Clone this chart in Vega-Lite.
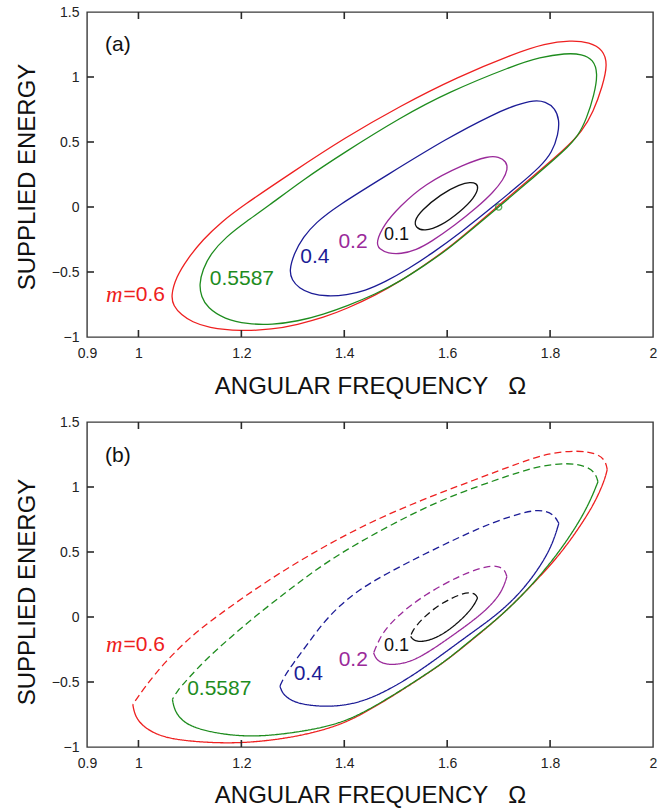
{
"$schema": "https://vega.github.io/schema/vega-lite/v6.json",
"padding": {"left": 14, "top": 4, "right": 8, "bottom": 0},
"spacing": 15,
"config": {
  "view": {"stroke": "#3a3a3a", "strokeWidth": 1.4},
  "font": "Liberation Sans",
  "axis": {"grid": false, "domain": false, "ticks": false, "labelFont": "Liberation Sans", "labelFontSize": 14, "labelColor": "#222", "titleFont": "Liberation Sans", "titleFontSize": 24, "titleFontWeight": "normal", "titleColor": "#111"}
},
"datasets": {
"tx": [{"v":1},{"v":1.2},{"v":1.4},{"v":1.6},{"v":1.8}],
"ty": [{"v":-0.5},{"v":0},{"v":0.5},{"v":1}],
"a": [
{"m":"0.6","i":0,"x":1.063,"y":-0.685},{"m":"0.6","i":1,"x":1.068,"y":-0.76},{"m":"0.6","i":2,"x":1.083,"y":-0.83},{"m":"0.6","i":3,"x":1.105,"y":-0.885},{"m":"0.6","i":4,"x":1.134,"y":-0.928},{"m":"0.6","i":5,"x":1.199,"y":-0.956},{"m":"0.6","i":6,"x":1.26,"y":-0.942},{"m":"0.6","i":7,"x":1.309,"y":-0.905},{"m":"0.6","i":8,"x":1.36,"y":-0.85},{"m":"0.6","i":9,"x":1.406,"y":-0.78},{"m":"0.6","i":10,"x":1.46,"y":-0.68},{"m":"0.6","i":11,"x":1.51,"y":-0.568},{"m":"0.6","i":12,"x":1.555,"y":-0.448},{"m":"0.6","i":13,"x":1.6,"y":-0.325},{"m":"0.6","i":14,"x":1.65,"y":-0.16},{"m":"0.6","i":15,"x":1.698,"y":0.005},{"m":"0.6","i":16,"x":1.765,"y":0.23},{"m":"0.6","i":17,"x":1.83,"y":0.45},{"m":"0.6","i":18,"x":1.862,"y":0.58},{"m":"0.6","i":19,"x":1.884,"y":0.73},{"m":"0.6","i":20,"x":1.902,"y":0.93},{"m":"0.6","i":21,"x":1.912,"y":1.1},{"m":"0.6","i":22,"x":1.903,"y":1.21},{"m":"0.6","i":23,"x":1.877,"y":1.268},{"m":"0.6","i":24,"x":1.84,"y":1.283},{"m":"0.6","i":25,"x":1.79,"y":1.258},{"m":"0.6","i":26,"x":1.73,"y":1.18},{"m":"0.6","i":27,"x":1.62,"y":1.0},{"m":"0.6","i":28,"x":1.51,"y":0.78},{"m":"0.6","i":29,"x":1.4,"y":0.53},{"m":"0.6","i":30,"x":1.3,"y":0.27},{"m":"0.6","i":31,"x":1.199,"y":0},{"m":"0.6","i":32,"x":1.163,"y":-0.11},{"m":"0.6","i":33,"x":1.125,"y":-0.25},{"m":"0.6","i":34,"x":1.095,"y":-0.4},{"m":"0.6","i":35,"x":1.073,"y":-0.54},
{"m":"0.5587","i":0,"x":1.118,"y":-0.595},{"m":"0.5587","i":1,"x":1.122,"y":-0.69},{"m":"0.5587","i":2,"x":1.134,"y":-0.775},{"m":"0.5587","i":3,"x":1.167,"y":-0.862},{"m":"0.5587","i":4,"x":1.212,"y":-0.902},{"m":"0.5587","i":5,"x":1.26,"y":-0.905},{"m":"0.5587","i":6,"x":1.309,"y":-0.88},{"m":"0.5587","i":7,"x":1.36,"y":-0.825},{"m":"0.5587","i":8,"x":1.406,"y":-0.76},{"m":"0.5587","i":9,"x":1.46,"y":-0.672},{"m":"0.5587","i":10,"x":1.51,"y":-0.568},{"m":"0.5587","i":11,"x":1.555,"y":-0.452},{"m":"0.5587","i":12,"x":1.6,"y":-0.33},{"m":"0.5587","i":13,"x":1.65,"y":-0.165},{"m":"0.5587","i":14,"x":1.7,"y":0},{"m":"0.5587","i":15,"x":1.767,"y":0.225},{"m":"0.5587","i":16,"x":1.83,"y":0.44},{"m":"0.5587","i":17,"x":1.855,"y":0.55},{"m":"0.5587","i":18,"x":1.871,"y":0.68},{"m":"0.5587","i":19,"x":1.886,"y":0.867},{"m":"0.5587","i":20,"x":1.893,"y":1.03},{"m":"0.5587","i":21,"x":1.884,"y":1.135},{"m":"0.5587","i":22,"x":1.862,"y":1.177},{"m":"0.5587","i":23,"x":1.83,"y":1.183},{"m":"0.5587","i":24,"x":1.78,"y":1.152},{"m":"0.5587","i":25,"x":1.73,"y":1.09},{"m":"0.5587","i":26,"x":1.6,"y":0.88},{"m":"0.5587","i":27,"x":1.51,"y":0.69},{"m":"0.5587","i":28,"x":1.4,"y":0.42},{"m":"0.5587","i":29,"x":1.32,"y":0.21},{"m":"0.5587","i":30,"x":1.25,"y":0},{"m":"0.5587","i":31,"x":1.21,"y":-0.11},{"m":"0.5587","i":32,"x":1.17,"y":-0.23},{"m":"0.5587","i":33,"x":1.14,"y":-0.36},{"m":"0.5587","i":34,"x":1.125,"y":-0.48},
{"m":"0.4","i":0,"x":1.293,"y":-0.49},{"m":"0.4","i":1,"x":1.298,"y":-0.56},{"m":"0.4","i":2,"x":1.312,"y":-0.625},{"m":"0.4","i":3,"x":1.335,"y":-0.668},{"m":"0.4","i":4,"x":1.367,"y":-0.688},{"m":"0.4","i":5,"x":1.405,"y":-0.677},{"m":"0.4","i":6,"x":1.44,"y":-0.645},{"m":"0.4","i":7,"x":1.48,"y":-0.575},{"m":"0.4","i":8,"x":1.525,"y":-0.475},{"m":"0.4","i":9,"x":1.568,"y":-0.364},{"m":"0.4","i":10,"x":1.63,"y":-0.185},{"m":"0.4","i":11,"x":1.688,"y":0},{"m":"0.4","i":12,"x":1.74,"y":0.17},{"m":"0.4","i":13,"x":1.781,"y":0.31},{"m":"0.4","i":14,"x":1.804,"y":0.42},{"m":"0.4","i":15,"x":1.816,"y":0.56},{"m":"0.4","i":16,"x":1.818,"y":0.67},{"m":"0.4","i":17,"x":1.81,"y":0.76},{"m":"0.4","i":18,"x":1.791,"y":0.812},{"m":"0.4","i":19,"x":1.769,"y":0.823},{"m":"0.4","i":20,"x":1.735,"y":0.787},{"m":"0.4","i":21,"x":1.693,"y":0.72},{"m":"0.4","i":22,"x":1.6,"y":0.53},{"m":"0.4","i":23,"x":1.485,"y":0.25},{"m":"0.4","i":24,"x":1.383,"y":0},{"m":"0.4","i":25,"x":1.345,"y":-0.12},{"m":"0.4","i":26,"x":1.32,"y":-0.23},{"m":"0.4","i":27,"x":1.302,"y":-0.36},
{"m":"0.2","i":0,"x":1.461,"y":-0.275},{"m":"0.2","i":1,"x":1.468,"y":-0.325},{"m":"0.2","i":2,"x":1.485,"y":-0.357},{"m":"0.2","i":3,"x":1.51,"y":-0.362},{"m":"0.2","i":4,"x":1.54,"y":-0.33},{"m":"0.2","i":5,"x":1.568,"y":-0.27},{"m":"0.2","i":6,"x":1.615,"y":-0.14},{"m":"0.2","i":7,"x":1.659,"y":0},{"m":"0.2","i":8,"x":1.69,"y":0.115},{"m":"0.2","i":9,"x":1.709,"y":0.21},{"m":"0.2","i":10,"x":1.718,"y":0.29},{"m":"0.2","i":11,"x":1.715,"y":0.35},{"m":"0.2","i":12,"x":1.7,"y":0.387},{"m":"0.2","i":13,"x":1.68,"y":0.392},{"m":"0.2","i":14,"x":1.633,"y":0.33},{"m":"0.2","i":15,"x":1.555,"y":0.175},{"m":"0.2","i":16,"x":1.507,"y":0},{"m":"0.2","i":17,"x":1.478,"y":-0.13},
{"m":"0.1","i":0,"x":1.536,"y":-0.108},{"m":"0.1","i":1,"x":1.539,"y":-0.16},{"m":"0.1","i":2,"x":1.555,"y":-0.187},{"m":"0.1","i":3,"x":1.587,"y":-0.148},{"m":"0.1","i":4,"x":1.626,"y":-0.035},{"m":"0.1","i":5,"x":1.653,"y":0.072},{"m":"0.1","i":6,"x":1.661,"y":0.148},{"m":"0.1","i":7,"x":1.657,"y":0.182},{"m":"0.1","i":8,"x":1.645,"y":0.192},{"m":"0.1","i":9,"x":1.626,"y":0.176},{"m":"0.1","i":10,"x":1.587,"y":0.098},{"m":"0.1","i":11,"x":1.549,"y":-0.03}
],
"b": [
{"m":"0.6","s":"s","i":0,"x":0.989,"y":-0.672},{"m":"0.6","s":"s","i":1,"x":0.993,"y":-0.76},{"m":"0.6","s":"s","i":2,"x":1.008,"y":-0.84},{"m":"0.6","s":"s","i":3,"x":1.035,"y":-0.905},{"m":"0.6","s":"s","i":4,"x":1.075,"y":-0.948},{"m":"0.6","s":"s","i":5,"x":1.16,"y":-0.973},{"m":"0.6","s":"s","i":6,"x":1.23,"y":-0.962},{"m":"0.6","s":"s","i":7,"x":1.3,"y":-0.925},{"m":"0.6","s":"s","i":8,"x":1.36,"y":-0.87},{"m":"0.6","s":"s","i":9,"x":1.41,"y":-0.8},{"m":"0.6","s":"s","i":10,"x":1.46,"y":-0.69},{"m":"0.6","s":"s","i":11,"x":1.51,"y":-0.568},{"m":"0.6","s":"s","i":12,"x":1.555,"y":-0.452},{"m":"0.6","s":"s","i":13,"x":1.6,"y":-0.332},{"m":"0.6","s":"s","i":14,"x":1.65,"y":-0.17},{"m":"0.6","s":"s","i":15,"x":1.704,"y":0.005},{"m":"0.6","s":"s","i":16,"x":1.76,"y":0.225},{"m":"0.6","s":"s","i":17,"x":1.814,"y":0.455},{"m":"0.6","s":"s","i":18,"x":1.853,"y":0.665},{"m":"0.6","s":"s","i":19,"x":1.886,"y":0.87},{"m":"0.6","s":"s","i":20,"x":1.906,"y":1.052},{"m":"0.6","s":"s","i":21,"x":1.911,"y":1.134},
{"m":"0.6","s":"d","i":0,"x":1.911,"y":1.134},{"m":"0.6","s":"d","i":1,"x":1.908,"y":1.2},{"m":"0.6","s":"d","i":2,"x":1.893,"y":1.257},{"m":"0.6","s":"d","i":3,"x":1.853,"y":1.284},{"m":"0.6","s":"d","i":4,"x":1.795,"y":1.258},{"m":"0.6","s":"d","i":5,"x":1.75,"y":1.2},{"m":"0.6","s":"d","i":6,"x":1.65,"y":1.05},{"m":"0.6","s":"d","i":7,"x":1.55,"y":0.9},{"m":"0.6","s":"d","i":8,"x":1.45,"y":0.73},{"m":"0.6","s":"d","i":9,"x":1.35,"y":0.52},{"m":"0.6","s":"d","i":10,"x":1.25,"y":0.28},{"m":"0.6","s":"d","i":11,"x":1.15,"y":0},{"m":"0.6","s":"d","i":12,"x":1.102,"y":-0.149},{"m":"0.6","s":"d","i":13,"x":1.05,"y":-0.352},{"m":"0.6","s":"d","i":14,"x":1.012,"y":-0.54},{"m":"0.6","s":"d","i":15,"x":0.989,"y":-0.672},
{"m":"0.5587","s":"s","i":0,"x":1.066,"y":-0.634},{"m":"0.5587","s":"s","i":1,"x":1.07,"y":-0.72},{"m":"0.5587","s":"s","i":2,"x":1.085,"y":-0.8},{"m":"0.5587","s":"s","i":3,"x":1.108,"y":-0.851},{"m":"0.5587","s":"s","i":4,"x":1.15,"y":-0.893},{"m":"0.5587","s":"s","i":5,"x":1.199,"y":-0.917},{"m":"0.5587","s":"s","i":6,"x":1.25,"y":-0.914},{"m":"0.5587","s":"s","i":7,"x":1.303,"y":-0.889},{"m":"0.5587","s":"s","i":8,"x":1.36,"y":-0.85},{"m":"0.5587","s":"s","i":9,"x":1.41,"y":-0.79},{"m":"0.5587","s":"s","i":10,"x":1.46,"y":-0.685},{"m":"0.5587","s":"s","i":11,"x":1.51,"y":-0.565},{"m":"0.5587","s":"s","i":12,"x":1.555,"y":-0.45},{"m":"0.5587","s":"s","i":13,"x":1.6,"y":-0.33},{"m":"0.5587","s":"s","i":14,"x":1.65,"y":-0.165},{"m":"0.5587","s":"s","i":15,"x":1.704,"y":0.005},{"m":"0.5587","s":"s","i":16,"x":1.762,"y":0.23},{"m":"0.5587","s":"s","i":17,"x":1.818,"y":0.5},{"m":"0.5587","s":"s","i":18,"x":1.858,"y":0.74},{"m":"0.5587","s":"s","i":19,"x":1.88,"y":0.91},{"m":"0.5587","s":"s","i":20,"x":1.893,"y":1.04},
{"m":"0.5587","s":"d","i":0,"x":1.893,"y":1.04},{"m":"0.5587","s":"d","i":1,"x":1.888,"y":1.11},{"m":"0.5587","s":"d","i":2,"x":1.87,"y":1.162},{"m":"0.5587","s":"d","i":3,"x":1.833,"y":1.187},{"m":"0.5587","s":"d","i":4,"x":1.78,"y":1.162},{"m":"0.5587","s":"d","i":5,"x":1.73,"y":1.103},{"m":"0.5587","s":"d","i":6,"x":1.6,"y":0.924},{"m":"0.5587","s":"d","i":7,"x":1.5,"y":0.73},{"m":"0.5587","s":"d","i":8,"x":1.4,"y":0.51},{"m":"0.5587","s":"d","i":9,"x":1.34,"y":0.35},{"m":"0.5587","s":"d","i":10,"x":1.29,"y":0.2},{"m":"0.5587","s":"d","i":11,"x":1.225,"y":0},{"m":"0.5587","s":"d","i":12,"x":1.175,"y":-0.17},{"m":"0.5587","s":"d","i":13,"x":1.13,"y":-0.33},{"m":"0.5587","s":"d","i":14,"x":1.095,"y":-0.48},{"m":"0.5587","s":"d","i":15,"x":1.075,"y":-0.57},{"m":"0.5587","s":"d","i":16,"x":1.066,"y":-0.634},
{"m":"0.4","s":"s","i":0,"x":1.275,"y":-0.532},{"m":"0.4","s":"s","i":1,"x":1.28,"y":-0.59},{"m":"0.4","s":"s","i":2,"x":1.295,"y":-0.64},{"m":"0.4","s":"s","i":3,"x":1.32,"y":-0.675},{"m":"0.4","s":"s","i":4,"x":1.367,"y":-0.692},{"m":"0.4","s":"s","i":5,"x":1.41,"y":-0.674},{"m":"0.4","s":"s","i":6,"x":1.445,"y":-0.634},{"m":"0.4","s":"s","i":7,"x":1.48,"y":-0.572},{"m":"0.4","s":"s","i":8,"x":1.523,"y":-0.475},{"m":"0.4","s":"s","i":9,"x":1.565,"y":-0.362},{"m":"0.4","s":"s","i":10,"x":1.607,"y":-0.24},{"m":"0.4","s":"s","i":11,"x":1.65,"y":-0.115},{"m":"0.4","s":"s","i":12,"x":1.695,"y":0.012},{"m":"0.4","s":"s","i":13,"x":1.74,"y":0.175},{"m":"0.4","s":"s","i":14,"x":1.778,"y":0.37},{"m":"0.4","s":"s","i":15,"x":1.804,"y":0.55},{"m":"0.4","s":"s","i":16,"x":1.817,"y":0.72},
{"m":"0.4","s":"d","i":0,"x":1.817,"y":0.72},{"m":"0.4","s":"d","i":1,"x":1.808,"y":0.786},{"m":"0.4","s":"d","i":2,"x":1.79,"y":0.817},{"m":"0.4","s":"d","i":3,"x":1.769,"y":0.824},{"m":"0.4","s":"d","i":4,"x":1.72,"y":0.772},{"m":"0.4","s":"d","i":5,"x":1.665,"y":0.69},{"m":"0.4","s":"d","i":6,"x":1.568,"y":0.51},{"m":"0.4","s":"d","i":7,"x":1.48,"y":0.33},{"m":"0.4","s":"d","i":8,"x":1.42,"y":0.19},{"m":"0.4","s":"d","i":9,"x":1.367,"y":0},{"m":"0.4","s":"d","i":10,"x":1.328,"y":-0.212},{"m":"0.4","s":"d","i":11,"x":1.3,"y":-0.36},{"m":"0.4","s":"d","i":12,"x":1.283,"y":-0.46},{"m":"0.4","s":"d","i":13,"x":1.275,"y":-0.532},
{"m":"0.2","s":"s","i":0,"x":1.457,"y":-0.276},{"m":"0.2","s":"s","i":1,"x":1.462,"y":-0.327},{"m":"0.2","s":"s","i":2,"x":1.475,"y":-0.358},{"m":"0.2","s":"s","i":3,"x":1.495,"y":-0.37},{"m":"0.2","s":"s","i":4,"x":1.53,"y":-0.345},{"m":"0.2","s":"s","i":5,"x":1.568,"y":-0.26},{"m":"0.2","s":"s","i":6,"x":1.615,"y":-0.13},{"m":"0.2","s":"s","i":7,"x":1.66,"y":0},{"m":"0.2","s":"s","i":8,"x":1.69,"y":0.11},{"m":"0.2","s":"s","i":9,"x":1.708,"y":0.21},{"m":"0.2","s":"s","i":10,"x":1.716,"y":0.31},
{"m":"0.2","s":"d","i":0,"x":1.716,"y":0.31},{"m":"0.2","s":"d","i":1,"x":1.712,"y":0.367},{"m":"0.2","s":"d","i":2,"x":1.698,"y":0.392},{"m":"0.2","s":"d","i":3,"x":1.68,"y":0.394},{"m":"0.2","s":"d","i":4,"x":1.633,"y":0.337},{"m":"0.2","s":"d","i":5,"x":1.555,"y":0.171},{"m":"0.2","s":"d","i":6,"x":1.502,"y":0.005},{"m":"0.2","s":"d","i":7,"x":1.475,"y":-0.12},{"m":"0.2","s":"d","i":8,"x":1.465,"y":-0.2},{"m":"0.2","s":"d","i":9,"x":1.457,"y":-0.276},
{"m":"0.1","s":"s","i":0,"x":1.529,"y":-0.149},{"m":"0.1","s":"s","i":1,"x":1.535,"y":-0.182},{"m":"0.1","s":"s","i":2,"x":1.552,"y":-0.195},{"m":"0.1","s":"s","i":3,"x":1.587,"y":-0.15},{"m":"0.1","s":"s","i":4,"x":1.626,"y":-0.03},{"m":"0.1","s":"s","i":5,"x":1.651,"y":0.08},{"m":"0.1","s":"s","i":6,"x":1.659,"y":0.146},
{"m":"0.1","s":"d","i":0,"x":1.659,"y":0.146},{"m":"0.1","s":"d","i":1,"x":1.656,"y":0.174},{"m":"0.1","s":"d","i":2,"x":1.645,"y":0.188},{"m":"0.1","s":"d","i":3,"x":1.632,"y":0.186},{"m":"0.1","s":"d","i":4,"x":1.587,"y":0.107},{"m":"0.1","s":"d","i":5,"x":1.549,"y":-0.02},{"m":"0.1","s":"d","i":6,"x":1.532,"y":-0.11},{"m":"0.1","s":"d","i":7,"x":1.529,"y":-0.149}
],
"lab": [
{"p":"a","m":"0.5587","t":"0.5587","x":1.201,"y":-0.554},
{"p":"a","m":"0.4","t":"0.4","x":1.343,"y":-0.383},
{"p":"a","m":"0.2","t":"0.2","x":1.417,"y":-0.268},
{"p":"a","m":"0.1","t":"0.1","x":1.5016,"y":-0.216},
{"p":"a","m":"0.6","t":"=0.6","x":0.971,"y":-0.68},
{"p":"a","m":"0.6","t":"m","x":0.969,"y":-0.68},
{"p":"a","m":"ab","t":"(a)","x":0.96,"y":1.246},
{"p":"b","m":"0.5587","t":"0.5587","x":1.157,"y":-0.557},
{"p":"b","m":"0.4","t":"0.4","x":1.33,"y":-0.442},
{"p":"b","m":"0.2","t":"0.2","x":1.4175,"y":-0.327},
{"p":"b","m":"0.1","t":"0.1","x":1.5016,"y":-0.225},
{"p":"b","m":"0.6","t":"=0.6","x":0.971,"y":-0.212},
{"p":"b","m":"0.6","t":"m","x":0.969,"y":-0.212},
{"p":"b","m":"ab","t":"(b)","x":0.96,"y":1.237}
]
},
"vconcat": [
{
  "width": 566, "height": 325,
  "resolve": {"axis": {"x": "independent", "y": "independent"}},
  "layer": [
    {"mark": {"type": "rule", "strokeDash": [1.3, 5.2], "color": "#333", "strokeWidth": 1.3},
     "encoding": {"y": {"datum": 0, "type": "quantitative", "axis": null}}},
    {"data": {"name": "a"}, "mark": {"type": "line", "interpolate": "basis-closed", "strokeWidth": 1.3},
     "encoding": {
       "x": {"field": "x", "type": "quantitative", "scale": {"domain": [0.9, 2], "nice": false, "zero": false}, "axis": {"orient": "bottom", "values": [0.9, 1, 1.2, 1.4, 1.6, 1.8, 2], "format": "~g", "labelFlush": false, "labelPadding": 9, "title": "ANGULAR FREQUENCY\u00a0\u00a0\u00a0Ω", "titleY": 56, "titleBaseline": "alphabetic"}},
       "y": {"field": "y", "type": "quantitative", "scale": {"domain": [-1, 1.5], "nice": false, "zero": false}, "axis": {"orient": "left", "values": [-1, -0.5, 0, 0.5, 1, 1.5], "format": "~g", "labelPadding": 8, "title": "SUPPLIED ENERGY", "titleX": -53, "titleY": 164.5, "titleBaseline": "alphabetic"}},
       "color": {"field": "m", "type": "nominal", "scale": {"domain": ["0.1", "0.2", "0.4", "0.5587", "0.6", "ab"], "range": ["#111111", "#9a2a9a", "#1c1c96", "#1e8c1e", "#ee2020", "#111111"]}, "legend": null},
       "order": {"field": "i", "type": "quantitative"}
     }},
    {"data": {"name": "tx"}, "mark": {"type": "rule", "color": "#2a2a2a", "strokeWidth": 1.6},
     "encoding": {"x": {"field": "v", "type": "quantitative", "axis": null}, "y": {"datum": -1, "type": "quantitative", "axis": null}, "y2": {"datum": -0.946}}},
    {"data": {"name": "tx"}, "mark": {"type": "rule", "color": "#2a2a2a", "strokeWidth": 1.6},
     "encoding": {"x": {"field": "v", "type": "quantitative", "axis": null}, "y": {"datum": 1.5, "type": "quantitative", "axis": null}, "y2": {"datum": 1.446}}},
    {"data": {"name": "ty"}, "mark": {"type": "rule", "color": "#2a2a2a", "strokeWidth": 1.6},
     "encoding": {"y": {"field": "v", "type": "quantitative", "axis": null}, "x": {"datum": 0.9, "type": "quantitative", "axis": null}, "x2": {"datum": 0.9136}}},
    {"data": {"name": "ty"}, "mark": {"type": "rule", "color": "#2a2a2a", "strokeWidth": 1.6},
     "encoding": {"y": {"field": "v", "type": "quantitative", "axis": null}, "x": {"datum": 2, "type": "quantitative", "axis": null}, "x2": {"datum": 1.9864}}},
    {"data": {"values": [{"x": 1.7, "y": 0}]}, "mark": {"type": "point", "shape": "circle", "size": 38, "filled": false, "color": "#1e8c1e", "strokeWidth": 1.4},
     "encoding": {"x": {"field": "x", "type": "quantitative", "axis": null}, "y": {"field": "y", "type": "quantitative", "axis": null}}},
    {"data": {"name": "lab"}, "transform": [{"filter": "datum.p == 'a' && datum.t != 'm' && datum.t != '=0.6' && datum.t != '0.1'"}],
     "mark": {"type": "text", "font": "Liberation Sans", "fontSize": 21, "align": "center", "baseline": "middle"},
     "encoding": {"x": {"field": "x", "type": "quantitative", "axis": null}, "y": {"field": "y", "type": "quantitative", "axis": null}, "text": {"field": "t"}, "color": {"field": "m", "type": "nominal", "legend": null}}},
    {"data": {"name": "lab"}, "transform": [{"filter": "datum.p == 'a' && datum.t == '0.1'"}],
     "mark": {"type": "text", "font": "Liberation Sans", "fontSize": 18, "align": "center", "baseline": "middle"},
     "encoding": {"x": {"field": "x", "type": "quantitative", "axis": null}, "y": {"field": "y", "type": "quantitative", "axis": null}, "text": {"field": "t"}, "color": {"field": "m", "type": "nominal", "legend": null}}},
    {"data": {"name": "lab"}, "transform": [{"filter": "datum.p == 'a' && datum.t == '=0.6'"}],
     "mark": {"type": "text", "font": "Liberation Sans", "fontSize": 21, "align": "left", "baseline": "middle"},
     "encoding": {"x": {"field": "x", "type": "quantitative", "axis": null}, "y": {"field": "y", "type": "quantitative", "axis": null}, "text": {"field": "t"}, "color": {"field": "m", "type": "nominal", "legend": null}}},
    {"data": {"name": "lab"}, "transform": [{"filter": "datum.p == 'a' && datum.t == 'm'"}],
     "mark": {"type": "text", "font": "Liberation Serif", "fontStyle": "italic", "fontSize": 23, "align": "right", "baseline": "middle"},
     "encoding": {"x": {"field": "x", "type": "quantitative", "axis": null}, "y": {"field": "y", "type": "quantitative", "axis": null}, "text": {"field": "t"}, "color": {"field": "m", "type": "nominal", "legend": null}}}
  ]
},
{
  "width": 566, "height": 325,
  "resolve": {"axis": {"x": "independent", "y": "independent"}},
  "layer": [
    {"mark": {"type": "rule", "strokeDash": [1.3, 5.2], "color": "#333", "strokeWidth": 1.3},
     "encoding": {"y": {"datum": 0, "type": "quantitative", "axis": null}}},
    {"data": {"name": "b"}, "mark": {"type": "line", "interpolate": "basis", "strokeWidth": 1.3},
     "encoding": {
       "x": {"field": "x", "type": "quantitative", "scale": {"domain": [0.9, 2], "nice": false, "zero": false}, "axis": {"orient": "bottom", "values": [0.9, 1, 1.2, 1.4, 1.6, 1.8, 2], "format": "~g", "labelFlush": false, "labelPadding": 9, "title": "ANGULAR FREQUENCY\u00a0\u00a0\u00a0Ω", "titleY": 55, "titleBaseline": "alphabetic"}},
       "y": {"field": "y", "type": "quantitative", "scale": {"domain": [-1, 1.5], "nice": false, "zero": false}, "axis": {"orient": "left", "values": [-1, -0.5, 0, 0.5, 1, 1.5], "format": "~g", "labelPadding": 8, "title": "SUPPLIED ENERGY", "titleX": -53, "titleY": 169.5, "titleBaseline": "alphabetic"}},
       "color": {"field": "m", "type": "nominal", "scale": {"domain": ["0.1", "0.2", "0.4", "0.5587", "0.6", "ab"], "range": ["#111111", "#9a2a9a", "#1c1c96", "#1e8c1e", "#ee2020", "#111111"]}, "legend": null},
       "strokeDash": {"field": "s", "type": "nominal", "scale": {"domain": ["s", "d"], "range": [[1, 0], [7, 4]]}, "legend": null},
       "order": {"field": "i", "type": "quantitative"}
     }},
    {"data": {"name": "tx"}, "mark": {"type": "rule", "color": "#2a2a2a", "strokeWidth": 1.6},
     "encoding": {"x": {"field": "v", "type": "quantitative", "axis": null}, "y": {"datum": -1, "type": "quantitative", "axis": null}, "y2": {"datum": -0.946}}},
    {"data": {"name": "tx"}, "mark": {"type": "rule", "color": "#2a2a2a", "strokeWidth": 1.6},
     "encoding": {"x": {"field": "v", "type": "quantitative", "axis": null}, "y": {"datum": 1.5, "type": "quantitative", "axis": null}, "y2": {"datum": 1.446}}},
    {"data": {"name": "ty"}, "mark": {"type": "rule", "color": "#2a2a2a", "strokeWidth": 1.6},
     "encoding": {"y": {"field": "v", "type": "quantitative", "axis": null}, "x": {"datum": 0.9, "type": "quantitative", "axis": null}, "x2": {"datum": 0.9136}}},
    {"data": {"name": "ty"}, "mark": {"type": "rule", "color": "#2a2a2a", "strokeWidth": 1.6},
     "encoding": {"y": {"field": "v", "type": "quantitative", "axis": null}, "x": {"datum": 2, "type": "quantitative", "axis": null}, "x2": {"datum": 1.9864}}},
    {"data": {"name": "lab"}, "transform": [{"filter": "datum.p == 'b' && datum.t != 'm' && datum.t != '=0.6' && datum.t != '0.1'"}],
     "mark": {"type": "text", "font": "Liberation Sans", "fontSize": 21, "align": "center", "baseline": "middle"},
     "encoding": {"x": {"field": "x", "type": "quantitative", "axis": null}, "y": {"field": "y", "type": "quantitative", "axis": null}, "text": {"field": "t"}, "color": {"field": "m", "type": "nominal", "legend": null}}},
    {"data": {"name": "lab"}, "transform": [{"filter": "datum.p == 'b' && datum.t == '0.1'"}],
     "mark": {"type": "text", "font": "Liberation Sans", "fontSize": 18, "align": "center", "baseline": "middle"},
     "encoding": {"x": {"field": "x", "type": "quantitative", "axis": null}, "y": {"field": "y", "type": "quantitative", "axis": null}, "text": {"field": "t"}, "color": {"field": "m", "type": "nominal", "legend": null}}},
    {"data": {"name": "lab"}, "transform": [{"filter": "datum.p == 'b' && datum.t == '=0.6'"}],
     "mark": {"type": "text", "font": "Liberation Sans", "fontSize": 21, "align": "left", "baseline": "middle"},
     "encoding": {"x": {"field": "x", "type": "quantitative", "axis": null}, "y": {"field": "y", "type": "quantitative", "axis": null}, "text": {"field": "t"}, "color": {"field": "m", "type": "nominal", "legend": null}}},
    {"data": {"name": "lab"}, "transform": [{"filter": "datum.p == 'b' && datum.t == 'm'"}],
     "mark": {"type": "text", "font": "Liberation Serif", "fontStyle": "italic", "fontSize": 23, "align": "right", "baseline": "middle"},
     "encoding": {"x": {"field": "x", "type": "quantitative", "axis": null}, "y": {"field": "y", "type": "quantitative", "axis": null}, "text": {"field": "t"}, "color": {"field": "m", "type": "nominal", "legend": null}}}
  ]
}
]
}
